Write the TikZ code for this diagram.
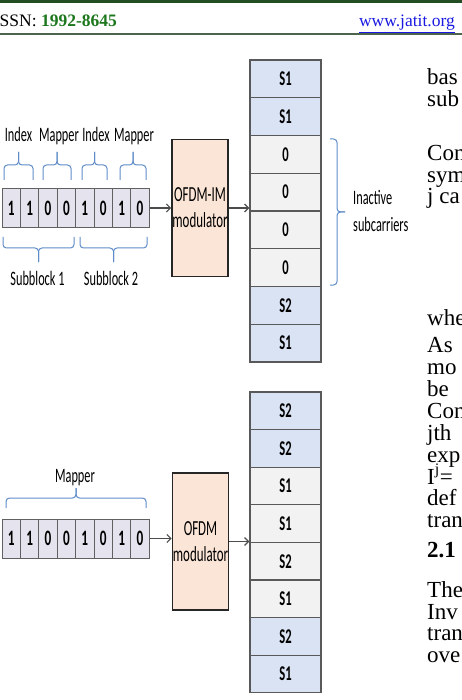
\documentclass[tikz,border=0pt]{standalone}
\usepackage{fontspec}
\setmainfont{Liberation Serif}
\newfontfamily\calib[FakeStretch=0.6]{Carlito}
\usetikzlibrary{positioning,arrows.meta}

\definecolor{hdrgreen}{RGB}{35,78,35}
\definecolor{isgreen}{RGB}{28,118,28}
\definecolor{linkblue}{RGB}{25,25,225}
\definecolor{bitfill}{RGB}{229,227,237}
\definecolor{bluefill}{RGB}{218,227,243}
\definecolor{grayfill}{RGB}{242,242,242}
\definecolor{modfill}{RGB}{251,229,214}
\definecolor{bracecol}{RGB}{95,140,200}

% brace: x1, x2, y of the ends, y of the bar, y of the tip
\newcommand{\hbrace}[5]{%
  \draw[bracecol, line width=1pt, rounded corners=3.5pt] (#1,#3) |- ({(#1+#2)/2},#4) -- ({(#1+#2)/2},#5);
  \draw[bracecol, line width=1pt, rounded corners=3.5pt] (#2,#3) |- ({(#1+#2)/2},#4) -- ({(#1+#2)/2},#5);}

\tikzset{
  bit/.style={draw=gray!75!black, fill=bitfill, line width=0.8pt, minimum width=18.4pt, minimum height=39pt, inner sep=0pt, font=\calib\bfseries\fontsize{22}{22}\selectfont},
  subc/.style={draw=black!65, line width=1.2pt, minimum width=71pt, minimum height=37.75pt, inner sep=0pt, font=\calib\bfseries\fontsize{21}{21}\selectfont},
  modbox/.style={draw=black!85, fill=modfill, line width=1.6pt, minimum width=56pt, minimum height=137pt, inner sep=0pt, align=center, font=\calib\fontsize{21.5}{26}\selectfont},
  lbl/.style={inner sep=0pt, font=\calib\fontsize{20.5}{20.5}\selectfont},
  arr/.style={-{Straight Barb[length=4pt,width=8pt]}, draw=black!70, line width=1.2pt},
  page/.style={anchor=base west, inner sep=0pt, font=\fontsize{23}{23}\selectfont}
}

\begin{document}
\begin{tikzpicture}[x=1pt,y=-1pt]
    \useasboundingbox (0,0) rectangle (462,700);
    \clip (0,0) rectangle (462,700);
    % page header
    \fill[hdrgreen] (0,0) rectangle (462,3.5);
    \draw[hdrgreen!55!gray, line width=1.5pt] (0,34) -- (462,34);
    \node[anchor=base west, inner sep=0pt, font=\fontsize{17.5}{17.5}\selectfont] (issn) at (-0.5,27) {SSN: \textcolor{isgreen}{\bfseries 1992-8645}};
    \node[anchor=base east, inner sep=0pt, text=linkblue, font=\fontsize{17.5}{17.5}\selectfont] (url) at (455,27) {\underline{www.jatit.org}};

    % OFDM-IM
    \foreach \b [count=\i] in {1,1,0,0,1,0,1,0}
        \node[bit] (a\i) at ({2+18.4*(\i-0.5)},208) {\b};
    \node[modbox] (mod1) at (200,208) {OFDM-IM\\modulator};
    \foreach \t/\f [count=\i] in {S1/bluefill,S1/bluefill,0/grayfill,0/grayfill,0/grayfill,0/grayfill,S2/bluefill,S1/bluefill}
        \node[subc, fill=\f] (c\i) at (285.5,{60+37.75*(\i-0.5)}) {\t};
    \draw[arr] (a8.east) -- (mod1.west);
    \draw[arr] (mod1.east) -- (mod1.east -| c1.west);

    \hbrace{4}{33}{180}{165}{152}
    \hbrace{43}{71}{180}{165}{152}
    \hbrace{82}{107}{180}{165}{152}
    \hbrace{120}{146}{180}{165}{152}
    \node[lbl, anchor=base] (ix1) at (18.5,142) {Index};
    \node[lbl, anchor=base] (mp1) at (59,142) {Mapper};
    \node[lbl, anchor=base] (ix2) at (96,142) {Index};
    \node[lbl, anchor=base] (mp2) at (134,142) {Mapper};

    \hbrace{3}{74}{237}{248}{262}
    \hbrace{80}{147}{237}{248}{262}
    \node[lbl, anchor=base] (sb1) at (37.5,285) {Subblock 1};
    \node[lbl, anchor=base] (sb2) at (111,285) {Subblock 2};

    \draw[bracecol, line width=1pt, rounded corners=3.5pt] (330,139) -| (337,212) -- (345,212);
    \draw[bracecol, line width=1pt, rounded corners=3.5pt] (330,285) -| (337,212) -- (345,212);
    \node[lbl, anchor=west, align=left, font=\calib\fontsize{20.5}{27}\selectfont] (inact) at (353,210.5) {Inactive\\subcarriers};

    % plain OFDM
    \foreach \b [count=\i] in {1,1,0,0,1,0,1,0}
        \node[bit] (b\i) at ({2+18.4*(\i-0.5)},538.5) {\b};
    \node[modbox] (mod2) at (200.5,541.5) {OFDM\\modulator};
    \foreach \t/\f [count=\i] in {S2/bluefill,S2/bluefill,S1/grayfill,S1/grayfill,S2/grayfill,S1/grayfill,S2/bluefill,S1/bluefill}
        \node[subc, fill=\f] (d\i) at (285.5,{392+37.6*(\i-0.5)}) {\t};
    \draw[arr] (b8.east) -- (b8.east -| mod2.west);
    \draw[arr] (mod2.east) -- (mod2.east -| d1.west);

    \hbrace{6}{146}{508}{498}{488}
    \node[lbl, anchor=base] (mp3) at (75,482) {Mapper};

    % text column of the page
    \foreach \w/\y in {bas/85, sub/107, Con/161, sym/183, j ca/204, whe/325, As/352, mo/374, be/396, Con/418, jth/440, exp/462, def/505, tran/527, The/597, Inv/619, tran/640, ove/662}
        \node[page] at (427,\y) {\w};
    \node[page] (ij) at (427,484) {I\textsuperscript{j}=};
    \node[page, font=\bfseries\fontsize{23}{23}\selectfont] (sec) at (427,557) {2.1};
\end{tikzpicture}
\end{document}
